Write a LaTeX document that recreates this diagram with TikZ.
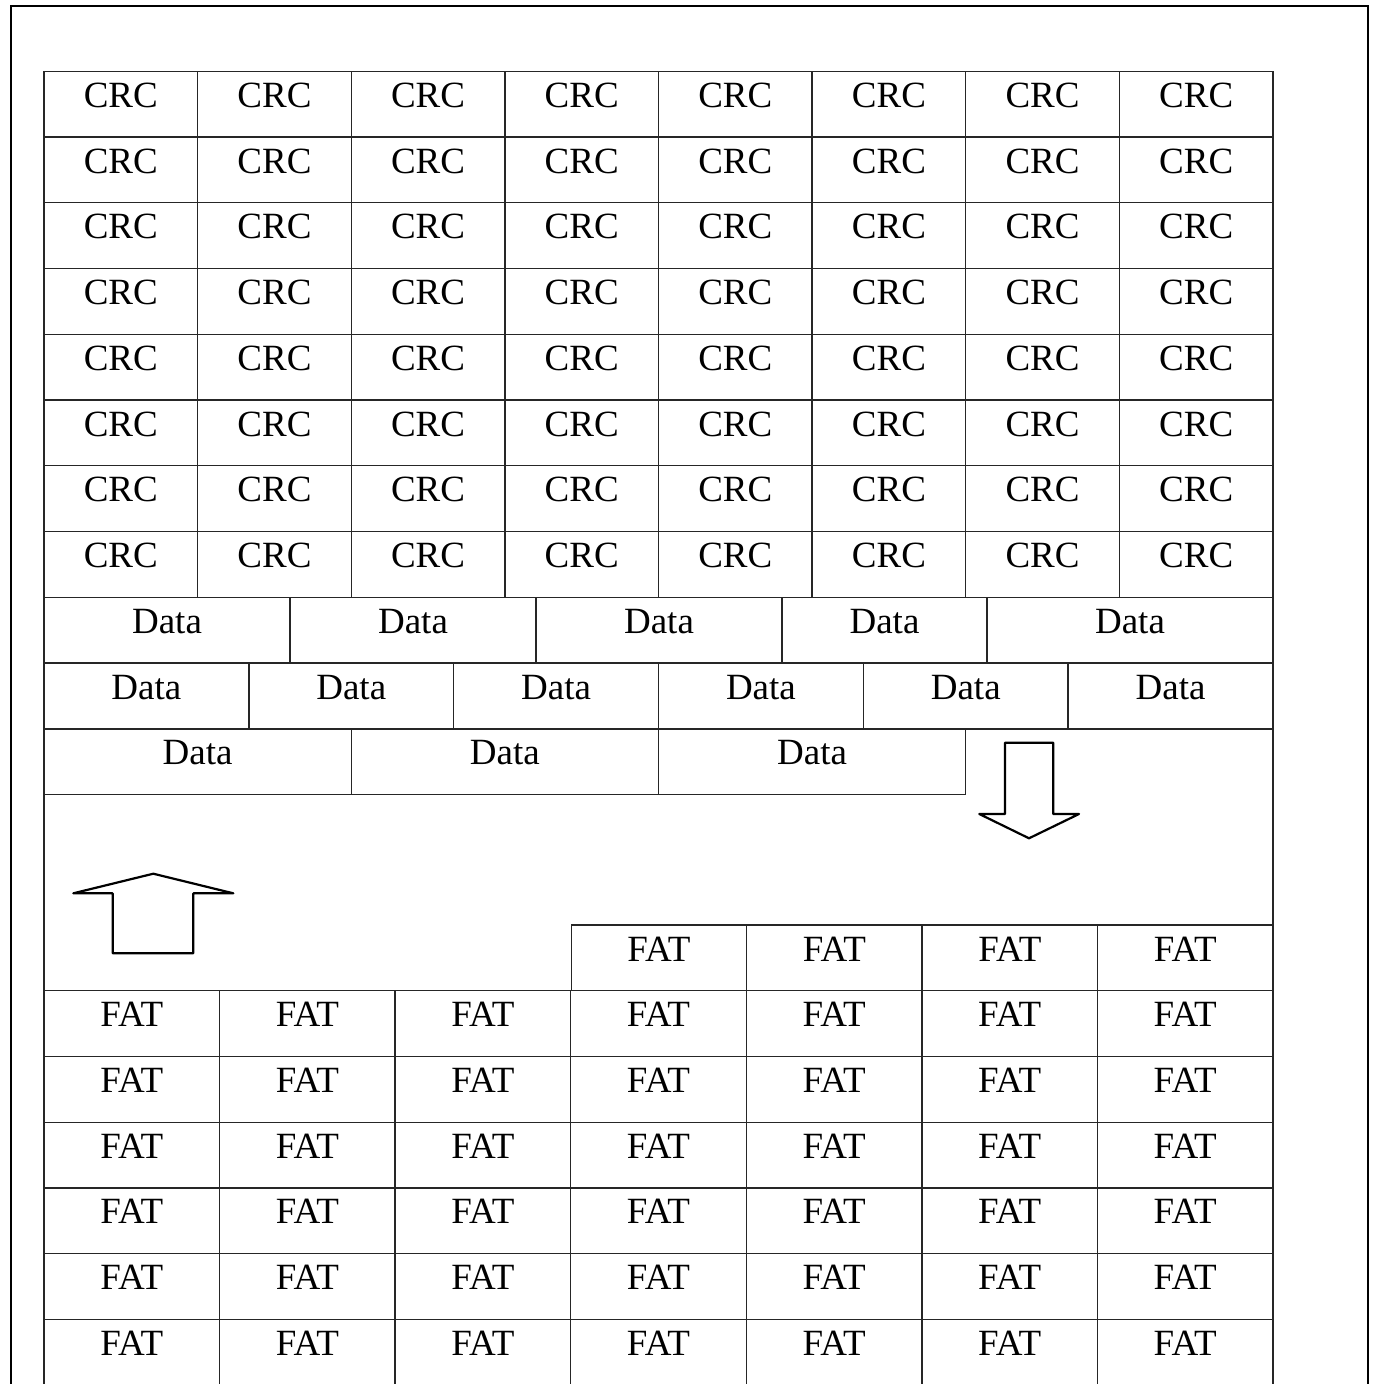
\documentclass[tikz,border=0pt]{standalone}
\usepackage{fontspec}
\setmainfont{Liberation Serif}
\begin{document}
\begin{tikzpicture}[x=0.5pt, y=-0.5pt,
    cell/.style={anchor=base, inner sep=0pt, font=\fontsize{18.5}{22}\selectfont},
    rule/.style={line width=0.7pt, black!85},
    blockarrow/.style={line width=1.1pt, line join=round}]
  \useasboundingbox (0,0) rectangle (1377,1384);
  % outer frame, open at the bottom
  \draw[line width=1pt] (10.5,1384) -- (10.5,6) -- (1367.5,6) -- (1367.5,1384);
  % table edges
  \draw[rule] (44,71.3) -- (44,1384);
  \draw[rule] (1273,71.3) -- (1273,1384);

  % CRC block, 8 x 8
  \foreach \k in {0,...,10}
    \draw[rule] (44,{71.3+\k*65.75}) -- (1273,{71.3+\k*65.75});
  \foreach \c in {1,...,7}
    \draw[rule] ({44+\c*153.625},71.3) -- ({44+\c*153.625},597.3);
  \foreach \r in {1,...,8}
    \foreach \c in {1,...,8}
      \node[cell] (crc-\r-\c) at ({44+(\c-0.5)*153.625},{107.3+(\r-1)*65.75}) {CRC};

  % Data rows
  \foreach \xa/\xb [count=\n] in {44/290, 290/536, 536/782, 782/987, 987/1273} {
    \node[cell] (data1-\n) at ({(\xa+\xb)/2},633.3) {Data};
    \draw[rule] (\xb,597.3) -- (\xb,663.05);
  }
  \foreach \n in {1,...,6} {
    \node[cell] (data2-\n) at ({44+(\n-0.5)*204.833},699.05) {Data};
    \draw[rule] ({44+\n*204.833},663.05) -- ({44+\n*204.833},728.8);
  }
  \foreach \n in {1,...,3} {
    \node[cell] (data3-\n) at ({44+(\n-0.5)*307.25},764.8) {Data};
    \draw[rule] ({44+\n*307.25},728.8) -- ({44+\n*307.25},794.55);
  }
  \draw[rule] (44,794.55) -- (965.75,794.55);

  % block arrows
  \draw[blockarrow] (1005,742.7) -- (1053.3,742.7) -- (1053.3,814) -- (1079,814)
    -- (1029,838.3) -- (979.3,814) -- (1005,814) -- cycle;
  \draw[blockarrow] (112.7,953.3) -- (193.3,953.3) -- (193.3,893.3) -- (233.3,893.3)
    -- (153.3,873.7) -- (73.3,893.3) -- (112.7,893.3) -- cycle;

  % FAT block: one short row of 4, then 6 rows of 7
  \draw[rule] (571.2,925) -- (1273,925);
  \foreach \n in {1,...,4} {
    \node[cell] (fat0-\n) at ({571.2+(\n-0.5)*175.45},961) {FAT};
    \draw[rule] ({571.2+(\n-1)*175.45},925) -- ({571.2+(\n-1)*175.45},990.7);
  }
  \foreach \k in {0,...,5}
    \draw[rule] (44,{990.7+\k*65.75}) -- (1273,{990.7+\k*65.75});
  \foreach \c in {1,...,6}
    \draw[rule] ({44+\c*175.571},990.7) -- ({44+\c*175.571},1384);
  \foreach \r in {1,...,6}
    \foreach \c in {1,...,7}
      \node[cell] (fat-\r-\c) at ({44+(\c-0.5)*175.571},{1026.7+(\r-1)*65.75}) {FAT};
\end{tikzpicture}
\end{document}
